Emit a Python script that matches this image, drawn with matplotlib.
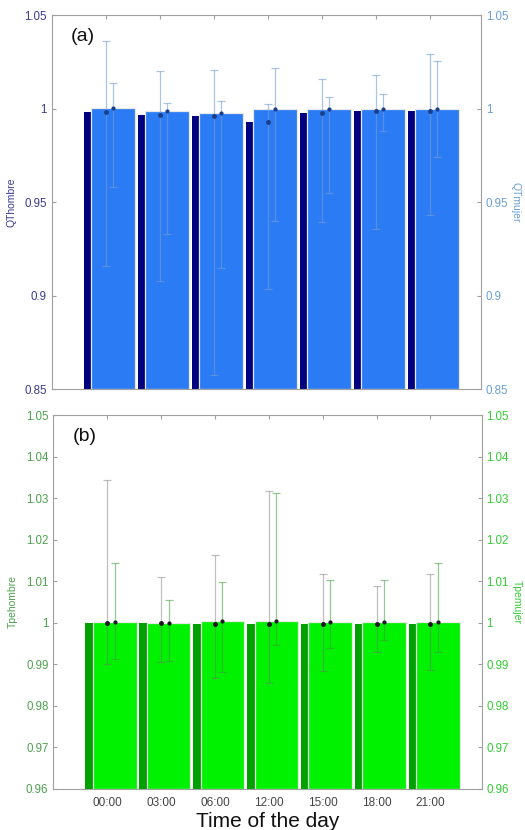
import matplotlib
matplotlib.use("Agg")
import matplotlib.pyplot as plt
import numpy as np

plt.rcParams['font.family'] = ['Liberation Sans', 'DejaVu Sans']

times = ["00:00", "03:00", "06:00", "12:00", "15:00", "18:00", "21:00"]

# Panel (a): QT
qt_hombre = [0.9981, 0.9967, 0.9960, 0.9928, 0.9978, 0.9988, 0.9988]
qt_hombre_lo = [0.916, 0.908, 0.8575, 0.9033, 0.9395, 0.9354, 0.943]
qt_hombre_hi = [1.0363, 1.020, 1.0208, 1.0023, 1.0158, 1.0179, 1.0291]
qt_mujer = [1.0001, 0.9985, 0.9978, 1.0000, 1.0000, 1.0000, 1.0000]
qt_mujer_lo = [0.958, 0.933, 0.9145, 0.940, 0.955, 0.988, 0.9742]
qt_mujer_hi = [1.0138, 1.0028, 1.004, 1.0218, 1.0063, 1.0078, 1.0254]

# Panel (b): Tpe
tpe_hombre = [1.0000, 1.0000, 0.9997, 0.9996, 0.9998, 0.9998, 0.9998]
tpe_hombre_lo = [0.9901, 0.9905, 0.9866, 0.9854, 0.9884, 0.9929, 0.9886]
tpe_hombre_hi = [1.0344, 1.0109, 1.0163, 1.0318, 1.0117, 1.0089, 1.0117]
tpe_mujer = [1.0003, 1.0000, 1.0004, 1.0004, 1.0001, 1.0002, 1.0002]
tpe_mujer_lo = [0.9912, 0.9909, 0.9881, 0.9947, 0.9939, 0.9959, 0.9930]
tpe_mujer_hi = [1.0145, 1.0055, 1.0099, 1.0312, 1.0103, 1.0103, 1.0145]

x = np.arange(1, len(times) + 1)
W = 0.81
OFF = 0.14

fig = plt.figure(figsize=(5.25, 8.3), dpi=100)
ax1 = fig.add_axes([0.0985, 0.5313, 0.8177, 0.4506])
ax2 = fig.add_axes([0.1015, 0.0494, 0.8160, 0.4506])

spine_c = '#a0a0a0'


def panel(ax, h, hlo, hhi, m, mlo, mhi, ylim, yticks, c_dark, c_light,
          e_dark, e_light, lab_l, lab_r, col_l, col_r, tag, fmt):
    h = np.array(h); m = np.array(m)
    ax.bar(x, h - ylim[0], W, bottom=ylim[0], color=c_dark,
           edgecolor='none', zorder=1)
    ax.bar(x + OFF, m - ylim[0], W, bottom=ylim[0], color=c_light,
           edgecolor='#e8e8e8', linewidth=0.9, zorder=2)
    ax.errorbar(x, h, yerr=[h - np.array(hlo), np.array(hhi) - h],
                fmt='none', ecolor=e_dark, elinewidth=0.9, capsize=3,
                capthick=0.9, zorder=3)
    ax.errorbar(x + OFF, m, yerr=[m - np.array(mlo), np.array(mhi) - m],
                fmt='none', ecolor=e_light, elinewidth=0.9, capsize=3,
                capthick=0.9, zorder=3)
    ax.plot(x, h, 'o', ms=2.5, color=fmt, zorder=4)
    ax.plot(x + OFF, m, 'o', ms=2.0, color=fmt, zorder=4)
    ax.set_xlim(0, 7.95)
    ax.set_ylim(*ylim)
    ax.set_yticks(yticks)
    ax.set_yticklabels([('%g' % t) for t in yticks], color=col_l, fontsize=8.3)
    ax.set_xticks(x)
    for s in ax.spines.values():
        s.set_color(spine_c)
        s.set_linewidth(0.8)
    ax.tick_params(axis='both', direction='in', length=3, color=spine_c,
                   top=True, right=False)
    ax.set_ylabel(lab_l, color=col_l, fontsize=7.5, labelpad=6)
    ax.text(0.045, 0.965, tag, transform=ax.transAxes, fontsize=14,
            va='top', ha='left', color='#111111')
    ar = ax.twinx()
    ar.set_ylim(*ylim)
    ar.set_yticks(yticks)
    ar.set_yticklabels([('%g' % t) for t in yticks], color=col_r, fontsize=8.3)
    for s in ar.spines.values():
        s.set_visible(False)
    ar.tick_params(axis='y', direction='in', length=3, color=spine_c)
    ar.set_ylabel(lab_r, color=col_r, fontsize=7.5, rotation=-90,
                  labelpad=9)
    return ar


panel(ax1, qt_hombre, qt_hombre_lo, qt_hombre_hi, qt_mujer, qt_mujer_lo,
      qt_mujer_hi, (0.85, 1.05), [0.85, 0.9, 0.95, 1.0, 1.05],
      '#00007f', '#2b7bf5', (0.45, 0.62, 0.82, 0.6), (0.45, 0.62, 0.82, 0.6),
      'QThombre', 'QTmujer', '#3a3a8c', '#6a9fd4', '(a)', '#1a3f8a')
ax1.set_xticklabels([])

panel(ax2, tpe_hombre, tpe_hombre_lo, tpe_hombre_hi, tpe_mujer, tpe_mujer_lo,
      tpe_mujer_hi, (0.96, 1.05), np.round(np.arange(0.96, 1.0501, 0.01), 2),
      '#00a000', '#00f200', (0.45, 0.45, 0.45, 0.45), (0.25, 0.6, 0.25, 0.55),
      'Tpehombre', 'Tpemujer', '#4ea04e', '#33cc33', '(b)', '#1a1a1a')
ax2.set_xticklabels(times, fontsize=8.5, color='#444444')
ax2.tick_params(axis='x', pad=6)
ax2.set_xlabel('Time of the day', fontsize=15, color='#111111', labelpad=2)

fig.savefig('out.png', dpi=100)
